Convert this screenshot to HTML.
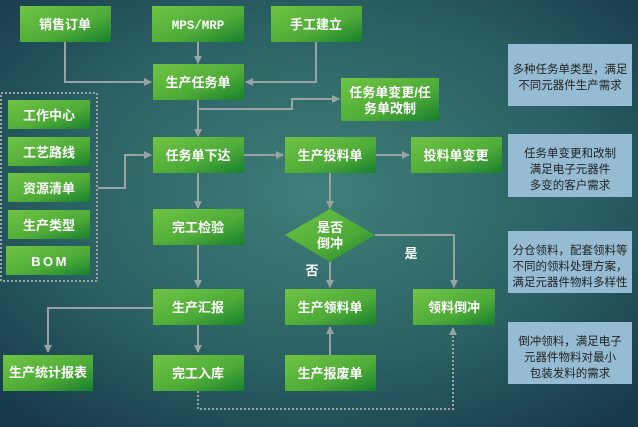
<!DOCTYPE html>
<html><head><meta charset="utf-8"><style>
html,body{margin:0;padding:0;width:638px;height:427px;overflow:hidden}
svg{display:block}
text{font-family:"Liberation Sans","Noto Sans CJK SC",sans-serif;font-size:13px;font-weight:bold;fill:#fff;text-anchor:middle}
.note{font-weight:normal;fill:#222;font-size:11.5px}
</style></head><body>
<svg width="638" height="427" viewBox="0 0 638 427">
<defs>
<radialGradient id="bg" cx="0.5" cy="0.45" r="0.7">
<stop offset="0" stop-color="#3f7f79"/><stop offset="0.6" stop-color="#2a5f63"/><stop offset="1" stop-color="#173a4a"/>
</radialGradient>
<linearGradient id="g" x1="0" y1="0" x2="1" y2="1">
<stop offset="0" stop-color="#70c444"/><stop offset="0.6" stop-color="#4eab38"/><stop offset="1" stop-color="#17802d"/>
</linearGradient>
<marker id="a" markerWidth="8" markerHeight="8" refX="7" refY="4" orient="auto" markerUnits="userSpaceOnUse"><path d="M0,0L8,4L0,8z" fill="#9aa3a3"/></marker>
</defs>
<rect width="638" height="427" fill="url(#bg)"/>
<g fill="none" stroke="#9aa3a3" stroke-width="2">
<path d="M65,42V82H151" marker-end="url(#a)"/>
<path d="M198,42V63" marker-end="url(#a)"/>
<path d="M316,42V82H246" marker-end="url(#a)"/>
<path d="M198,100V136" marker-end="url(#a)"/>
<path d="M198,109H292V99H339" marker-end="url(#a)"/>
<path d="M98,188H125V155H151" marker-end="url(#a)"/>
<path d="M244,155H283" marker-end="url(#a)"/>
<path d="M376,155H409" marker-end="url(#a)"/>
<path d="M330,173V208" marker-end="url(#a)"/>
<path d="M375,235H454V287" marker-end="url(#a)"/>
<path d="M330,262V287" marker-end="url(#a)"/>
<path d="M330,355V327" marker-end="url(#a)"/>
<path d="M198,173V208" marker-end="url(#a)"/>
<path d="M198,245V287" marker-end="url(#a)"/>
<path d="M198,325V352" marker-end="url(#a)"/>
<path d="M153,308H48V352" marker-end="url(#a)"/>
<path d="M198,391V409H453V328" stroke-dasharray="2,2" marker-end="url(#a)"/>
<rect x="1" y="93" width="96" height="188" stroke-dasharray="2,2"/>
</g>
<g fill="url(#g)">
<rect x="20" y="6" width="91" height="36"/>
<rect x="152" y="6" width="92" height="36"/>
<rect x="271" y="6" width="91" height="36"/>
<rect x="153" y="64" width="91" height="36"/>
<rect x="341" y="78" width="98" height="43"/>
<rect x="153" y="137" width="91" height="36"/>
<rect x="285" y="137" width="91" height="36"/>
<rect x="411" y="137" width="91" height="36"/>
<rect x="153" y="209" width="91" height="36"/>
<polygon points="285,235 330,209 375,235 330,262"/>
<rect x="153" y="289" width="91" height="36"/>
<rect x="285" y="289" width="91" height="36"/>
<rect x="413" y="289" width="82" height="36"/>
<rect x="3" y="355" width="90" height="36"/>
<rect x="153" y="355" width="91" height="36"/>
<rect x="285" y="355" width="91" height="36"/>
<rect x="8" y="100" width="82" height="29"/>
<rect x="8" y="137" width="82" height="29"/>
<rect x="8" y="173" width="82" height="29"/>
<rect x="8" y="210" width="82" height="29"/>
<rect x="6" y="246" width="84" height="29"/>
</g>
<g fill="#95bcd2">
<rect x="508" y="44" width="124" height="62"/>
<rect x="508" y="134" width="124" height="63"/>
<rect x="508" y="231" width="124" height="62"/>
<rect x="508" y="322" width="124" height="62"/>
</g>
<text x="65" y="29">销售订单</text>
<text x="198" y="29" style="font-family:'Liberation Mono',monospace;font-size:12.5px">MPS/MRP</text>
<text x="316" y="29">手工建立</text>
<text x="198" y="87">生产任务单</text>
<text x="390" y="97">任务单变更/任</text>
<text x="390" y="113">务单改制</text>
<text x="198" y="160">任务单下达</text>
<text x="330" y="160">生产投料单</text>
<text x="456" y="160">投料单变更</text>
<text x="198" y="232">完工检验</text>
<text x="330" y="232">是否</text>
<text x="330" y="248">倒冲</text>
<text x="312" y="275">否</text>
<text x="411" y="258">是</text>
<text x="198" y="312">生产汇报</text>
<text x="330" y="312">生产领料单</text>
<text x="454" y="312">领料倒冲</text>
<text x="48" y="377">生产统计报表</text>
<text x="198" y="378">完工入库</text>
<text x="330" y="378">生产报废单</text>
<text x="49" y="120">工作中心</text>
<text x="49" y="157">工艺路线</text>
<text x="49" y="193">资源清单</text>
<text x="49" y="230">生产类型</text>
<text x="36" y="266">B</text><text x="48" y="266">O</text><text x="61" y="266">M</text>
<text class="note" x="570" y="73">多种任务单类型，满足</text>
<text class="note" x="570" y="89">不同元器件生产需求</text>
<text class="note" x="570" y="157">任务单变更和改制</text>
<text class="note" x="570" y="173">满足电子元器件</text>
<text class="note" x="570" y="189">多变的客户需求</text>
<text class="note" x="570" y="254">分仓领料，配套领料等</text>
<text class="note" x="570" y="270">不同的领料处理方案，</text>
<text class="note" x="570" y="286">满足元器件物料多样性</text>
<text class="note" x="570" y="345">倒冲领料，满足电子</text>
<text class="note" x="570" y="361">元器件物料对最小</text>
<text class="note" x="570" y="377">包装发料的需求</text>
</svg>
</body></html>
